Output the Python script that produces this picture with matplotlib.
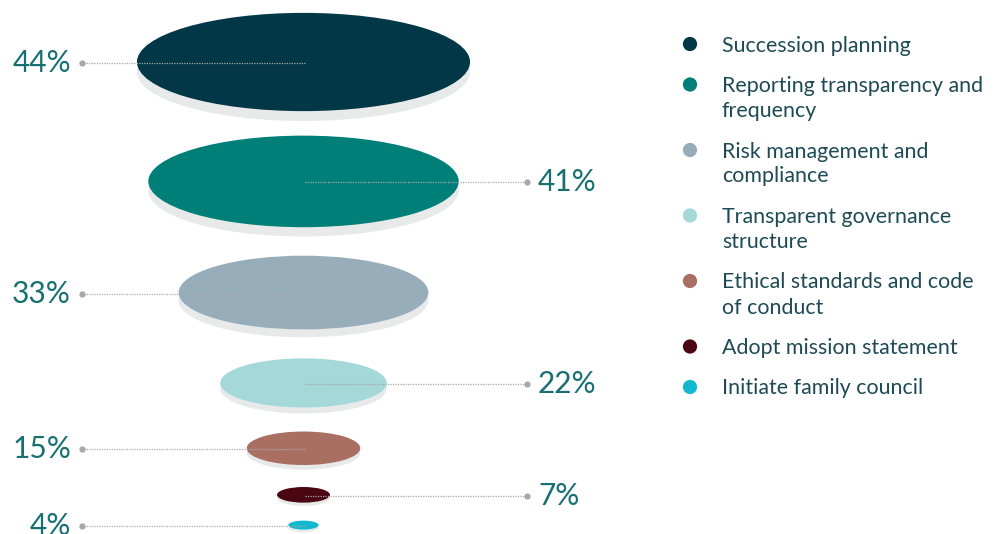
import matplotlib
matplotlib.use("Agg")
import matplotlib.pyplot as plt
from matplotlib.patches import Ellipse

categories = [
    "Succession planning",
    "Reporting transparency and\nfrequency",
    "Risk management and\ncompliance",
    "Transparent governance\nstructure",
    "Ethical standards and code\nof conduct",
    "Adopt mission statement",
    "Initiate family council",
]
values = [44, 41, 33, 22, 15, 7, 4]
colors = ["#023747", "#007f78", "#97adba", "#a5d8d8", "#a86f62", "#4a0613", "#12b8d0"]
label_side = ["left", "right", "left", "right", "left", "right", "left"]

# layout: vertical gap (px) between successive ellipses
gaps = [24.5, 28.5, 29, 24, 22, 18]

plt.rcParams["font.family"] = ["Lato", "DejaVu Sans"]

W, H = 995, 534
fig = plt.figure(figsize=(W / 100, H / 100), dpi=100)
ax = fig.add_axes([0, 0, 1, 1])
ax.set_xlim(0, W)
ax.set_ylim(H, 0)
ax.axis("off")

px_per_pt = 7.57
ratio = 0.295
cx = 303.5
y = 62.0
prev_h = None
label_color = "#176f72"
lead_color = "#a8a8a8"

for i, (v, c, side) in enumerate(zip(values, colors, label_side)):
    w = v * px_per_pt
    h = w * ratio
    if prev_h is not None:
        y += (prev_h + h) / 2 + gaps[i - 1]
    prev_h = h
    off = 0.08 * h + 2
    ax.add_patch(Ellipse((cx, y + off), w, h, facecolor="#e8eaea", edgecolor="none", zorder=1))
    ax.add_patch(Ellipse((cx, y), w, h, facecolor=c, edgecolor="none", zorder=2))
    if side == "left":
        x_end = 82
        ax.text(71, y + 1, f"{v}%", ha="right", va="center", fontsize=21.5, color=label_color)
    else:
        x_end = 527
        ax.text(538, y + 1, f"{v}%", ha="left", va="center", fontsize=21.5, color=label_color)
    ax.plot([305, x_end], [y + 1, y + 1], color=lead_color, lw=0.9, ls=(0, (1, 1)), zorder=3)
    ax.plot([x_end], [y + 1], marker="o", ms=4.5, color=lead_color, mec="none", zorder=4)

# legend
ly = 44
legend_text_color = "#1d4a55"
for cat, c in zip(categories, colors):
    ax.scatter([690], [ly], s=105, color=c, edgecolors="none", zorder=5)
    lines = cat.split("\n")
    for k, line in enumerate(lines):
        ax.text(722, ly + 7.5 + 25 * k, line, ha="left", va="baseline", fontsize=15.4,
                color=legend_text_color)
    ly += 40.5 + 25 * (len(lines) - 1)

fig.savefig("out.png", dpi=100)
